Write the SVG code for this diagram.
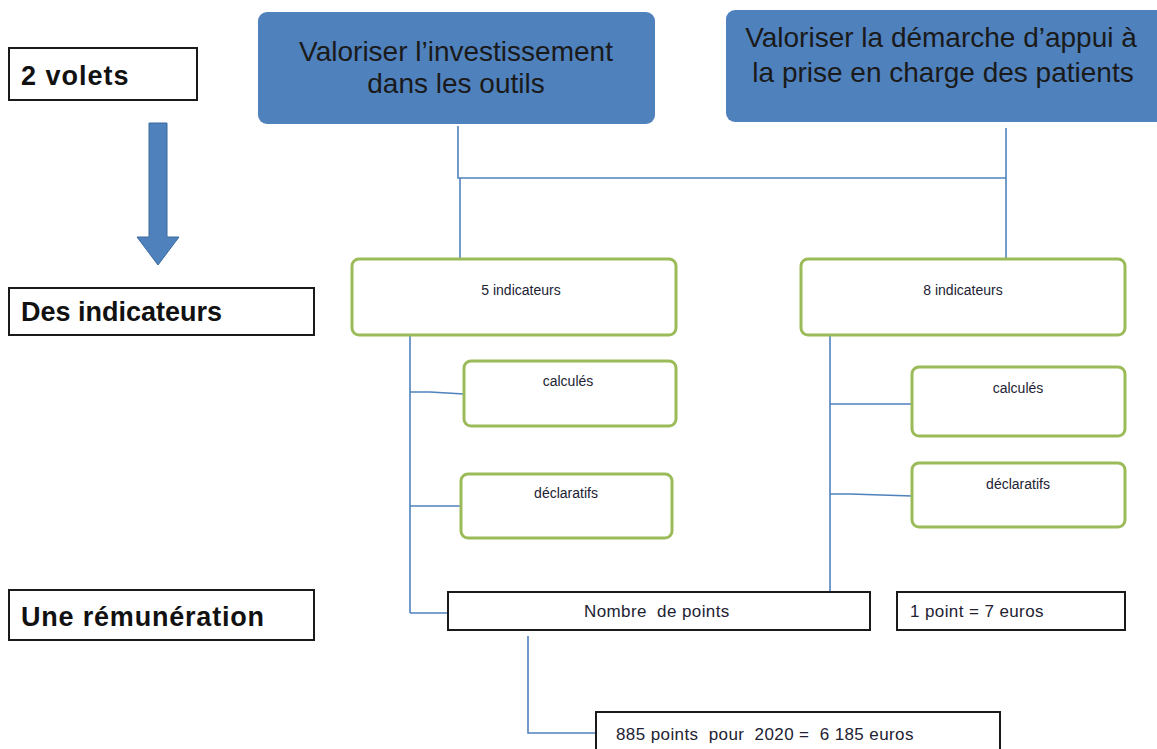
<svg xmlns="http://www.w3.org/2000/svg" width="1157" height="749" viewBox="0 0 1157 749">
<style>
.lbl{fill:#fff;stroke:#1a1a1a;stroke-width:2}
.lt{font-family:"Liberation Sans",Arial,sans-serif;font-weight:bold;font-size:27px;fill:#111}
.blue{fill:#4F81BD}
.bt{font-family:"Liberation Sans",Arial,sans-serif;font-size:28px;fill:#1a1a1a;text-anchor:middle}
.green{fill:#fff;stroke:#9BBB59;stroke-width:3}
.gt{font-family:"Liberation Sans",Arial,sans-serif;font-size:14px;fill:#222233;text-anchor:middle}
.box{fill:#fff;stroke:#1a1a1a;stroke-width:2}
.st{font-family:"Liberation Sans",Arial,sans-serif;font-size:17px;letter-spacing:0.4px;fill:#222233}
.con{fill:none;stroke:#4F81BD;stroke-width:1.6}
</style>
<rect width="1157" height="749" fill="#fff"/>
<g id="lbl-volets"><rect class="lbl" x="9" y="48" width="188" height="52"/><text class="lt" x="21" y="85" letter-spacing="1">2 volets</text></g>
<g id="arrow"><path d="M149 123 H167 V237 H179 L158 265 L137 237 H149 Z" fill="#4F81BD" stroke="#3a6a9e" stroke-width="1"/></g>
<g id="lbl-indicateurs"><rect class="lbl" x="9" y="288" width="305" height="47"/><text class="lt" x="21" y="321">Des indicateurs</text></g>
<g id="lbl-remuneration"><rect class="lbl" x="9" y="590" width="305" height="50"/><text class="lt" x="21" y="626" letter-spacing="0.8">Une rémunération</text></g>
<g id="connectors">
<polyline class="con" points="458,126 458,178 1006,178"/>
<line class="con" x1="1006" y1="128" x2="1006" y2="259"/>
<line class="con" x1="460" y1="178" x2="460" y2="259"/>
<line class="con" x1="410" y1="335" x2="410" y2="613"/>
<polyline class="con" points="410,392 430,392 464,394"/>
<line class="con" x1="410" y1="506" x2="461" y2="506"/>
<line class="con" x1="410" y1="613" x2="448" y2="613"/>
<line class="con" x1="830" y1="335" x2="830" y2="592"/>
<line class="con" x1="830" y1="404" x2="912" y2="404"/>
<polyline class="con" points="830,494 850,494 912,496"/>
<polyline class="con" points="528,636 528,733 596,733"/>
</g>
<g id="n-outils"><rect class="blue" x="258" y="12" width="397" height="112" rx="9"/><text class="bt" x="456" y="61">Valoriser l’investissement</text><text class="bt" x="456" y="93">dans les outils</text></g>
<g id="n-demarche"><rect class="blue" x="726" y="10" width="440" height="112" rx="9"/><text class="bt" x="941" y="47">Valoriser la démarche d’appui à</text><text class="bt" x="943" y="82">la prise en charge des patients</text></g>
<g id="n-5ind"><rect class="green" x="352" y="259" width="324" height="76" rx="7"/><text class="gt" x="521" y="295">5 indicateurs</text></g>
<g id="n-8ind"><rect class="green" x="801" y="259" width="324" height="76" rx="7"/><text class="gt" x="963" y="295">8 indicateurs</text></g>
<g id="n-calc-l"><rect class="green" x="464" y="361" width="212" height="65" rx="7"/><text class="gt" x="568" y="386">calculés</text></g>
<g id="n-decl-l"><rect class="green" x="461" y="474" width="211" height="64" rx="7"/><text class="gt" x="566" y="498">déclaratifs</text></g>
<g id="n-calc-r"><rect class="green" x="912" y="367" width="213" height="69" rx="7"/><text class="gt" x="1018" y="393">calculés</text></g>
<g id="n-decl-r"><rect class="green" x="912" y="463" width="213" height="64" rx="7"/><text class="gt" x="1018" y="489">déclaratifs</text></g>
<g id="n-points"><rect class="box" x="448" y="592" width="422" height="38"/><text class="st" x="584" y="617" xml:space="preserve">Nombre  de points</text></g>
<g id="n-euro"><rect class="box" x="897" y="592" width="228" height="38"/><text class="st" x="910" y="617">1 point = 7 euros</text></g>
<g id="n-total"><rect class="box" x="596" y="712" width="404" height="45"/><text class="st" x="616" y="740" xml:space="preserve">885 points  pour  2020 =  6 185 euros</text></g>
</svg>
